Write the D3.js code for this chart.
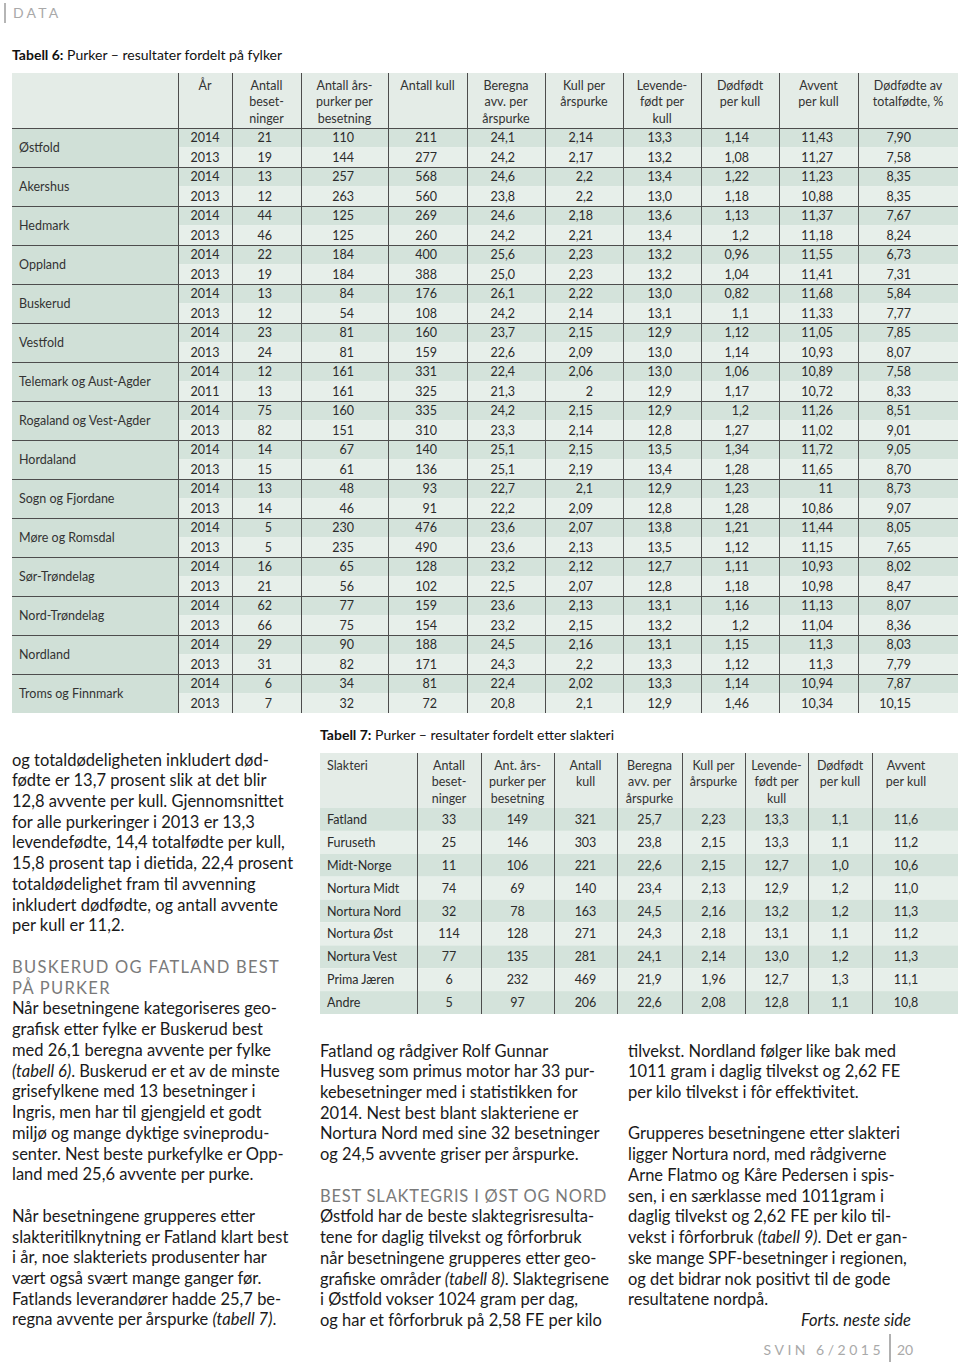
<!DOCTYPE html>
<html>
<head>
<meta charset="utf-8">
<script src="https://cdn.jsdelivr.net/npm/d3@7"></script>
<style>
  body { margin: 0; background: #fff; }
  svg { display: block; font-family: Lato, "Open Sans", sans-serif; }
</style>
</head>
<body>
<svg id="page" width="960" height="1364"></svg>
<script>
// ---- Tabell 6: Purker – resultater fordelt på fylker ----
const regions = ["Østfold", "Akershus", "Hedmark", "Oppland", "Buskerud", "Vestfold",
    "Telemark og Aust-Agder", "Rogaland og Vest-Agder", "Hordaland", "Sogn og Fjordane",
    "Møre og Romsdal", "Sør-Trøndelag", "Nord-Trøndelag", "Nordland", "Troms og Finnmark"];
const years = ["2014","2013","2014","2013","2014","2013","2014","2013","2014","2013",
    "2014","2013","2014","2011","2014","2013","2014","2013","2014","2013",
    "2014","2013","2014","2013","2014","2013","2014","2013","2014","2013"];
const besetninger = ["21","19","13","12","44","46","22","19","13","12","23","24","12","13","75",
    "82","14","15","13","14","5","5","16","21","62","66","29","31","6","7"];
const arspurker = ["110","144","257","263","125","125","184","184","84","54","81","81","161","161","160",
    "151","67","61","48","46","230","235","65","56","77","75","90","82","34","32"];
const antallKull = ["211","277","568","560","269","260","400","388","176","108","160","159","331","325","335",
    "310","140","136","93","91","476","490","128","102","159","154","188","171","81","72"];
const beregna = ["24,1","24,2","24,6","23,8","24,6","24,2","25,6","25,0","26,1","24,2","23,7","22,6","22,4","21,3","24,2",
    "23,3","25,1","25,1","22,7","22,2","23,6","23,6","23,2","22,5","23,6","23,2","24,5","24,3","22,4","20,8"];
const kullPerArspurke = ["2,14","2,17","2,2","2,2","2,18","2,21","2,23","2,23","2,22","2,14","2,15","2,09","2,06","2","2,15",
    "2,14","2,15","2,19","2,1","2,09","2,07","2,13","2,12","2,07","2,13","2,15","2,16","2,2","2,02","2,1"];
const levendefodt = ["13,3","13,2","13,4","13,0","13,6","13,4","13,2","13,2","13,0","13,1","12,9","13,0","13,0","12,9","12,9",
    "12,8","13,5","13,4","12,9","12,8","13,8","13,5","12,7","12,8","13,1","13,2","13,1","13,3","13,3","12,9"];
const dodfodt = ["1,14","1,08","1,22","1,18","1,13","1,2","0,96","1,04","0,82","1,1","1,12","1,14","1,06","1,17","1,2",
    "1,27","1,34","1,28","1,23","1,28","1,21","1,12","1,11","1,18","1,16","1,2","1,15","1,12","1,14","1,46"];
const avvent = ["11,43","11,27","11,23","10,88","11,37","11,18","11,55","11,41","11,68","11,33","11,05","10,93","10,89","10,72","11,26",
    "11,02","11,72","11,65","11","10,86","11,44","11,15","10,93","10,98","11,13","11,04","11,3","11,3","10,94","10,34"];
const dodfodtePct = ["7,90","7,58","8,35","8,35","7,67","8,24","6,73","7,31","5,84","7,77","7,85","8,07","7,58","8,33","8,51",
    "9,01","9,05","8,70","8,73","9,07","8,05","7,65","8,02","8,47","8,07","8,36","8,03","7,79","7,87","10,15"];
const t6Headers = [[], ["År"], ["Antall", "beset-", "ninger"], ["Antall års-", "purker per", "besetning"],
    ["Antall kull"], ["Beregna", "avv. per", "årspurke"], ["Kull per", "årspurke"],
    ["Levende-", "født per", "kull"], ["Dødfødt", "per kull"], ["Avvent", "per kull"],
    ["Dødfødte av", "totalfødte, %"]];

// ---- Tabell 7: Purker – resultater fordelt etter slakteri ----
const slakterier = ["Fatland", "Furuseth", "Midt-Norge", "Nortura Midt", "Nortura Nord",
    "Nortura Øst", "Nortura Vest", "Prima Jæren", "Andre"];
const t7Besetninger = ["33","25","11","74","32","114","77","6","5"];
const t7Arspurker = ["149","146","106","69","78","128","135","232","97"];
const t7Kull = ["321","303","221","140","163","271","281","469","206"];
const t7Beregna = ["25,7","23,8","22,6","23,4","24,5","24,3","24,1","21,9","22,6"];
const t7KullPer = ["2,23","2,15","2,15","2,13","2,16","2,18","2,14","1,96","2,08"];
const t7Levende = ["13,3","13,3","12,7","12,9","13,2","13,1","13,0","12,7","12,8"];
const t7Dodfodt = ["1,1","1,1","1,0","1,2","1,2","1,1","1,2","1,3","1,1"];
const t7Avvent = ["11,6","11,2","10,6","11,0","11,3","11,2","11,3","11,1","10,8"];
const t7Headers = [["Slakteri"], ["Antall", "beset-", "ninger"], ["Ant. års-", "purker per", "besetning"],
    ["Antall", "kull"], ["Beregna", "avv. per", "årspurke"], ["Kull per", "årspurke"],
    ["Levende-", "født per", "kull"], ["Dødfødt", "per kull"], ["Avvent", "per kull"]];

// ---- body text (*...* = italic, # = heading) ----
const col1Lines = [
    "og totaldødeligheten inkludert død-",
    "fødte er 13,7 prosent slik at det blir",
    "12,8 avvente per kull. Gjennomsnittet",
    "for alle purkeringer i 2013 er 13,3",
    "levendefødte, 14,4 totalfødte per kull,",
    "15,8 prosent tap i dietida, 22,4 prosent",
    "totaldødelighet fram til avvenning",
    "inkludert dødfødte, og antall avvente",
    "per kull er 11,2.",
    "",
    "#BUSKERUD OG FATLAND BEST",
    "#PÅ PURKER",
    "Når besetningene kategoriseres geo-",
    "grafisk etter fylke er Buskerud best",
    "med 26,1 beregna avvente per fylke",
    "*(tabell 6)*. Buskerud er et av de minste",
    "grisefylkene med 13 besetninger i",
    "Ingris, men har til gjengjeld et godt",
    "miljø og mange dyktige svineprodu-",
    "senter. Nest beste purkefylke er Opp-",
    "land med 25,6 avvente per purke.",
    "",
    "Når besetningene grupperes etter",
    "slakteritilknytning er Fatland klart best",
    "i år, noe slakteriets produsenter har",
    "vært også svært mange ganger før.",
    "Fatlands leverandører hadde 25,7 be-",
    "regna avvente per årspurke *(tabell 7)*."
];
const col3Lines = [
    "Fatland og rådgiver Rolf Gunnar",
    "Husveg som primus motor har 33 pur-",
    "kebesetninger med i statistikken for",
    "2014. Nest best blant slakteriene er",
    "Nortura Nord med sine 32 besetninger",
    "og 24,5 avvente griser per årspurke.",
    "",
    "#BEST SLAKTEGRIS I ØST OG NORD",
    "Østfold har de beste slaktegrisresulta-",
    "tene for daglig tilvekst og fôrforbruk",
    "når besetningene grupperes etter geo-",
    "grafiske områder *(tabell 8)*. Slaktegrisene",
    "i Østfold vokser 1024 gram per dag,",
    "og har et fôrforbruk på 2,58 FE per kilo"
];
const col4Lines = [
    "tilvekst. Nordland følger like bak med",
    "1011 gram i daglig tilvekst og 2,62 FE",
    "per kilo tilvekst i fôr effektivitet.",
    "",
    "Grupperes besetningene etter slakteri",
    "ligger Nortura nord, med rådgiverne",
    "Arne Flatmo og Kåre Pedersen i spis-",
    "sen, i en særklasse med 1011gram i",
    "daglig tilvekst og 2,62 FE per kilo til-",
    "vekst i fôrforbruk *(tabell 9)*. Det er gan-",
    "ske mange SPF-besetninger i regionen,",
    "og det bidrar nok positivt til de gode",
    "resultatene nordpå."
];

// ---- colours ----
const cLabel = "#d0e0d7", cDark = "#d4e3db", cLight = "#e7efea", cHead = "#e4ece7";
const cRule = "#4d4d4d", cText = "#2b2b2b";

const svg = d3.select("#page");

// page tag
svg.append("rect").attr("x", 4).attr("y", 3).attr("width", 2).attr("height", 20).attr("fill", "#b5b5b5");
svg.append("text").attr("x", 13).attr("y", 17.5).text("DATA")
    .attr("font-size", 14).attr("letter-spacing", 3.2).attr("fill", "#a9a9a9");

function title(x, y, bold, rest) {
    let t = svg.append("text").attr("x", x).attr("y", y).attr("font-size", 14).attr("fill", "#111");
    t.append("tspan").attr("font-weight", 700).text(bold);
    t.append("tspan").text(rest);
}
title(12, 60, "Tabell 6:", " Purker – resultater fordelt på fylker");
title(320, 740, "Tabell 7:", " Purker – resultater fordelt etter slakteri");

// ================= Tabell 6 =================
let t6Edges = [12, 178, 232, 301, 388, 467, 545, 623, 701, 779, 858, 958];
let t6Pad = [0, 0, 29, 34, 30, 30, 30, 29, 30, 25, 47];
let t6Cols = [null, years, besetninger, arspurker, antallKull, beregna, kullPerArspurke,
    levendefodt, dodfodt, avvent, dodfodtePct];

let y6 = d3.scaleBand().domain(d3.range(years.length)).range([128, 713]);
let g6 = svg.append("g");

// header background
g6.append("rect").attr("x", 12).attr("y", 73).attr("width", 946).attr("height", 55).attr("fill", cHead);

// label column
g6.append("rect").attr("x", 12).attr("y", 128).attr("width", 166).attr("height", 585).attr("fill", cLabel);

// row backgrounds
g6.selectAll("rect.row").data(years).enter().append("rect")
    .attr("class", "row")
    .attr("x", 178).attr("y", (d, i) => y6(i))
    .attr("width", 780).attr("height", y6.bandwidth())
    .attr("fill", (d, i) => i % 2 == 0 ? cDark : cLight);

// header text
t6Headers.forEach(function(lines, c) {
    let cx = (t6Edges[c] + t6Edges[c + 1]) / 2;
    lines.forEach(function(l, k) {
        g6.append("text").attr("x", cx).attr("y", 89.5 + k * 16.5)
            .attr("text-anchor", "middle").attr("font-size", 12.5).attr("fill", "#333").text(l);
    });
});

// region labels
g6.selectAll("text.region").data(regions).enter().append("text")
    .attr("class", "region")
    .attr("x", 19).attr("y", (d, i) => y6(i * 2) + y6.bandwidth() + 4.5)
    .attr("font-size", 12.5).attr("fill", "#333").text(d => d);

// cells
t6Cols.forEach(function(col, c) {
    if (!col) return;
    let centered = c == 1;
    let x = centered ? (t6Edges[c] + t6Edges[c + 1]) / 2 : t6Edges[c + 1] - t6Pad[c];
    g6.selectAll("text.c" + c).data(col).enter().append("text")
        .attr("class", "c" + c)
        .attr("x", x).attr("y", (d, i) => y6(i) + y6.bandwidth() / 2 + 4.3)
        .attr("text-anchor", centered ? "middle" : "end")
        .attr("font-size", 12.5).attr("fill", cText).text(d => d);
});

// rules
g6.selectAll("line.v").data(t6Edges.slice(1, -1)).enter().append("line")
    .attr("x1", d => d + 0.5).attr("x2", d => d + 0.5).attr("y1", 73).attr("y2", 713)
    .attr("stroke", cRule).attr("stroke-width", 1);
g6.selectAll("line.h").data(d3.range(0, years.length, 2)).enter().append("line")
    .attr("x1", 12).attr("x2", 958).attr("y1", d => y6(d) + 0.5).attr("y2", d => y6(d) + 0.5)
    .attr("stroke", cRule).attr("stroke-width", 1);

// ================= Tabell 7 =================
let t7Edges = [320, 417, 481, 554, 617, 682, 745, 808, 872, 940];
let t7Cols = [slakterier, t7Besetninger, t7Arspurker, t7Kull, t7Beregna, t7KullPer,
    t7Levende, t7Dodfodt, t7Avvent];
let y7 = d3.scaleBand().domain(d3.range(slakterier.length)).range([808, 1014]);
let g7 = svg.append("g");

g7.append("rect").attr("x", 320).attr("y", 753).attr("width", 638).attr("height", 55).attr("fill", cHead);
g7.selectAll("rect.row").data(slakterier).enter().append("rect")
    .attr("x", 320).attr("y", (d, i) => y7(i))
    .attr("width", 638).attr("height", y7.bandwidth())
    .attr("fill", (d, i) => i % 2 == 0 ? cDark : cLight);

t7Headers.forEach(function(lines, c) {
    let first = c == 0;
    let cx = first ? 327 : (t7Edges[c] + t7Edges[c + 1]) / 2;
    lines.forEach(function(l, k) {
        g7.append("text").attr("x", cx).attr("y", 769.5 + k * 16.5)
            .attr("text-anchor", first ? "start" : "middle").attr("font-size", 12.5).attr("fill", "#333").text(l);
    });
});

t7Cols.forEach(function(col, c) {
    let first = c == 0;
    let x = first ? 327 : (t7Edges[c] + t7Edges[c + 1]) / 2;
    g7.selectAll("text.c" + c).data(col).enter().append("text")
        .attr("class", "c" + c)
        .attr("x", x).attr("y", (d, i) => y7(i) + y7.bandwidth() / 2 + 4.5)
        .attr("text-anchor", first ? "start" : "middle")
        .attr("font-size", 12.5).attr("fill", cText).text(d => d);
});

g7.selectAll("line.v").data(t7Edges.slice(1, -1)).enter().append("line")
    .attr("x1", d => d + 0.5).attr("x2", d => d + 0.5).attr("y1", 753).attr("y2", 1014)
    .attr("stroke", cRule).attr("stroke-width", 1);

// ================= body text =================
function column(lines, x, top, maxW, hs) {
    lines.forEach(function(line, i) {
        if (line == "") return;
        let y = top + i * 20.74 + 5.5;
        let t = svg.append("text").attr("x", x).attr("y", y).attr("font-size", 16.5);
        if (line[0] == "#") {
            t.text(line.slice(1)).attr("fill", "#7a7a7a").attr("letter-spacing", hs);
        } else {
            t.attr("fill", "#1a1a1a");
            line.split("*").forEach(function(seg, k) {
                if (seg == "") return;
                t.append("tspan").attr("font-style", k % 2 ? "italic" : "normal").text(seg);
            });
        }
        if (t.node().getComputedTextLength() > maxW) {
            t.attr("textLength", maxW).attr("lengthAdjust", "spacingAndGlyphs");
        }
    });
}
column(col1Lines, 12, 760, 292, 1.3);
column(col3Lines, 320, 1051, 290, 0.8);
column(col4Lines, 628, 1051, 284, 0.8);

svg.append("text").attr("x", 911).attr("y", 1325.5).attr("text-anchor", "end")
    .attr("font-size", 16.5).attr("font-style", "italic").attr("fill", "#1a1a1a").text("Forts. neste side");

// footer
svg.append("text").attr("x", 884).attr("y", 1355).attr("text-anchor", "end")
    .attr("font-size", 14).attr("letter-spacing", 3.5).attr("fill", "#a9a9a9").text("SVIN 6/2015");
svg.append("rect").attr("x", 889).attr("y", 1334).attr("width", 2).attr("height", 28).attr("fill", "#b0b0b0");
svg.append("text").attr("x", 897).attr("y", 1355)
    .attr("font-size", 14).attr("fill", "#a9a9a9").text("20");
</script>
</body>
</html>
